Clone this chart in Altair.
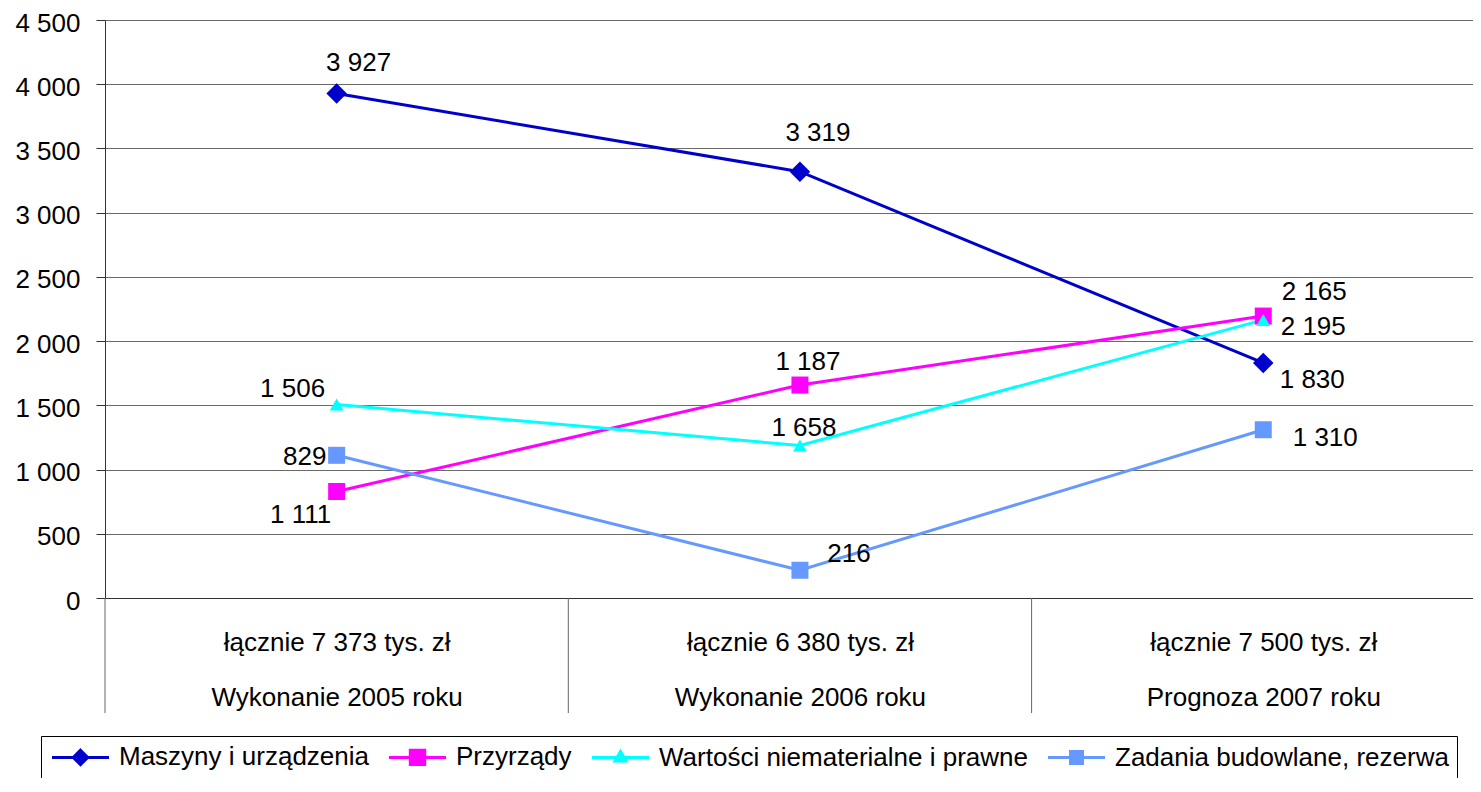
import altair as alt
import pandas as pd

# ---------------- data ----------------
categories = ["Wykonanie 2005 roku", "Wykonanie 2006 roku", "Prognoza 2007 roku"]
category_totals = ["łącznie 7 373 tys. zł", "łącznie 6 380 tys. zł", "łącznie 7 500 tys. zł"]
series = ["Maszyny i urządzenia", "Przyrządy", "Wartości niematerialne i prawne",
          "Zadania budowlane, rezerwa"]

maszyny = [3927, 3319, 1830]
przyrzady = [829, 1658, 2195]
wartosci = [1506, 1187, 2165]
zadania = [1111, 216, 1310]

maszyny_labels = ["3 927", "3 319", "1 830"]
przyrzady_labels = ["1 111", "1 187", "2 165"]
wartosci_labels = ["1 506", "1 658", "2 195"]
zadania_labels = ["829", "216", "1 310"]

y_ticks = [0, 500, 1000, 1500, 2000, 2500, 3000, 3500, 4000, 4500]

# ---------------- styles ----------------
FONT = "Liberation Sans"
FS = 26
colors = ["#0000CC", "#FF00FF", "#00FFFF", "#6699FF"]
marker_shapes = ["diamond", "square", "triangle-up", "square"]
marker_sizes = [420, 289, 190, 289]


# legend symbols: line segment plus a (concentrically stroked, i.e. solid) marker
def _diamond(cx, hs):
    return "".join("M%g,%gL%g,0L%g,%gL%g,0Z" % (cx, -h, cx + h, cx, h, cx - h) for h in hs)


def _square(cx, hs):
    return "".join("M%g,%gH%gV%gH%gZ" % (cx - h, -h, cx + h, h, cx - h) for h in hs)


def _triangle(cx, ks):
    out = ""
    for k in ks:
        top, base, half = 0.033 - 0.633 * k, 0.033 + 0.317 * k, 0.55 * k
        out += "M%g,%gL%g,%gL%g,%gZ" % (cx, top, cx + half, base, cx - half, base)
    return out


SEG = "M-1,0H4.7"
MC = 1.85
legend_paths = [
    SEG + _diamond(MC, [0.72, 0.45, 0.18]),
    SEG + _square(MC, [0.72, 0.42, 0.12]),
    SEG + _triangle(MC, [1.0, 0.45]),
    SEG + _square(MC, [0.6, 0.3, 0.05]),
]
# label placement offsets (pixels) per series / category
label_offsets = [
    [(22, -31), (18, -39), (49, 17)],
    [(-36, 23), (8, -23), (51, -24)],
    [(-44, -16), (4, -18), (50, 7)],
    [(-32, 2), (49, -16), (62, 8)],
]

values = [maszyny, przyrzady, wartosci, zadania]
labels = [maszyny_labels, przyrzady_labels, wartosci_labels, zadania_labels]

rows = []
for si, s in enumerate(series):
    for ci in range(len(categories)):
        rows.append({"series": s, "si": si, "ci": ci, "pos": ci + 0.5,
                     "value": values[si][ci], "label": labels[si][ci]})
df = pd.DataFrame(rows)
sep_df = pd.DataFrame({"pos": list(range(len(categories)))})

PLOT_W, PLOT_H = 1368, 578
BAND = 463.3


# x axis labels (two lines per category)
def arr(i):
    return "['%s', '%s']" % (category_totals[i], categories[i])


label_expr = "datum.value < 1 ? %s : (datum.value < 2 ? %s : %s)" % (arr(0), arr(1), arr(2))

x_axis = alt.Axis(values=[0.5, 1.5, 2.5], labelExpr=label_expr, ticks=False, tickSize=0,
                  domain=True, domainColor="#333333", domainWidth=1, grid=False,
                  labelFont=FONT, labelFontSize=FS, labelColor="black", labelPadding=31,
                  labelLineHeight=55, labelBaseline="top", labelOverlap=False,
                  labelFlush=False, labelBound=False, labelAngle=0, labelLimit=450,
                  title=None)
y_axis = alt.Axis(values=y_ticks, labelExpr="replace(format(datum.value, ','), ',', ' ')",
                  tickSize=9, tickColor="#333333", labelPadding=16, labelOffset=3,
                  labelFont=FONT, labelFontSize=FS, labelColor="black",
                  grid=True, gridColor="#6a6a6a", gridWidth=1,
                  domainColor="#333333", title=None)

x_enc = alt.X("pos:Q", scale=alt.Scale(domain=[0, PLOT_W / BAND], nice=False, zero=False),
              axis=x_axis)
y_enc = alt.Y("value:Q", scale=alt.Scale(domain=[0, 4500], nice=False, zero=True), axis=y_axis)
# data-driven (alphabetical = series order) domain for the drawn marks
color_scale = alt.Scale(range=colors)

separators = alt.Chart(sep_df).mark_rule(color="#666666", strokeWidth=1).encode(
    x=x_enc, y=alt.value(PLOT_H), y2=alt.value(PLOT_H + 115))

lines = alt.Chart(df).mark_line(strokeWidth=3).encode(
    x=x_enc, y=y_enc,
    color=alt.Color("series:N", scale=color_scale, legend=None),
    order="pos:Q")

layers = [separators, lines]
for si, s in enumerate(series):
    layers.append(
        alt.Chart(df).transform_filter(alt.datum.si == si)
        .mark_point(shape=marker_shapes[si], filled=True, opacity=1, size=marker_sizes[si])
        .encode(x=x_enc, y=y_enc,
                color=alt.Color("series:N", scale=color_scale, legend=None)))

for si in range(len(series)):
    for ci in range(len(categories)):
        dx, dy = label_offsets[si][ci]
        layers.append(
            alt.Chart(df).transform_filter((alt.datum.si == si) & (alt.datum.ci == ci))
            .mark_text(font=FONT, fontSize=FS, color="black", align="center",
                       baseline="middle", dx=dx, dy=dy)
            .encode(x=x_enc, y=y_enc, text="label:N"))

legend_def = alt.Legend(title=None, orient="none", legendX=-64, legendY=716,
                        direction="horizontal", columns=4, strokeColor="black",
                        padding=8, labelFont=FONT, labelFontSize=FS, labelColor="black",
                        labelLimit=1000, symbolSize=400, symbolStrokeWidth=3,
                        symbolOpacity=1, columnPadding=14, labelOffset=44)

legend_layer = alt.Chart(df).mark_point(opacity=0, filled=False, strokeWidth=3).encode(
    x=x_enc, y=y_enc,
    stroke=alt.Stroke("series:N", scale=alt.Scale(domain=series, range=colors),
                      legend=legend_def),
    shape=alt.Shape("series:N", scale=alt.Scale(domain=series, range=legend_paths),
                    legend=legend_def))
layers.append(legend_layer)

chart = alt.layer(*layers).properties(
    width=PLOT_W, height=PLOT_H,
    autosize=alt.AutoSizeParams(type="none"),
    padding={"left": 97, "top": 12, "right": 0, "bottom": 180},
    background="white",
).configure_view(stroke=None).configure(font=FONT)

chart.save("out.html", embed_options={"renderer": "svg", "actions": False})
